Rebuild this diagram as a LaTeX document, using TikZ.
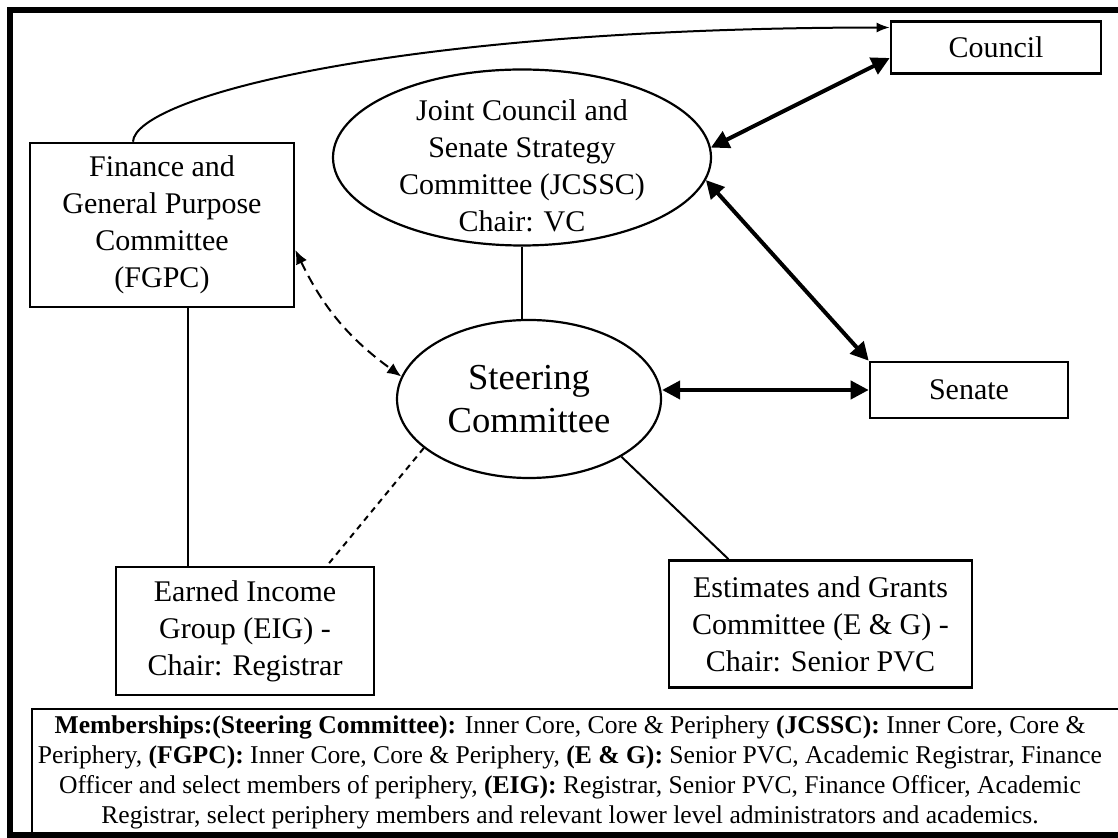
\documentclass[tikz,border=0pt]{standalone}
\usepackage{fontspec}
\setmainfont{Liberation Serif}
\usetikzlibrary{arrows.meta,shapes.geometric,calc}

\begin{document}
\begin{tikzpicture}[x=0.5pt,y=-0.5pt,
  box/.style={draw,line width=1.3pt,rectangle,inner sep=0pt,align=center,
    font=\fontsize{15}{18.5}\selectfont},
  oval/.style={draw,line width=1.1pt,ellipse,inner sep=0pt},
  ovaltext/.style={align=center,inner sep=0pt},
  link/.style={line width=1pt},
  bigarrow/.style={line width=2pt,
    {Triangle[length=9pt,width=9pt]}-{Triangle[length=9pt,width=9pt]}},
  dasharrow/.style={line width=1pt,dash pattern=on 5pt off 3pt,
    {Latex[length=7pt,width=6pt]}-{Latex[length=7pt,width=6pt]}},
  dashlink/.style={line width=1pt,dash pattern=on 3pt off 2.5pt},
]
\useasboundingbox (0,0) rectangle (1118,838);

% outer frame and membership panel
\draw[line width=3pt] (1130,10) -- (10,10) -- (10,835) -- (1130,835);
\draw[line width=1.3pt] (32,709) rectangle (1130,835);

% committees
\node[box,minimum width=105pt,minimum height=26pt] (council) at (996,47.5) {Council};
\node[box,minimum width=132pt,minimum height=82pt] (fgpc) at (162,225)
  {Finance and\\General Purpose\\Committee\\(FGPC)};
\node[oval,minimum width=189pt,minimum height=88pt] (jcssc) at (522,157.5) {};
\node[ovaltext,font=\fontsize{15}{18.5}\selectfont] (jcsscText)
  at ([yshift=-4pt]jcssc.center)
  {Joint Council and\\Senate Strategy\\Committee (JCSSC)\\Chair: VC};
\node[oval,minimum width=132pt,minimum height=79pt] (steer) at (529,399) {};
\node[ovaltext,font=\fontsize{18.3}{21.5}\selectfont] (steerText)
  at (steer.center) {Steering\\Committee};
\node[box,minimum width=99pt,minimum height=28pt] (senate) at (969,390) {Senate};
\node[box,minimum width=129pt,minimum height=64pt] (eig) at (245,631)
  {Earned Income\\Group (EIG) -\\Chair: Registrar};
\node[box,minimum width=151.5pt,minimum height=63.5pt] (eg) at (820.5,624)
  {Estimates and Grants\\Committee (E \& G) -\\Chair: Senior PVC};

\node[align=center,font=\fontsize{12.8}{15}\selectfont] (members) at (570,772)
  {\textbf{Memberships:(Steering Committee):} Inner Core, Core \& Periphery \textbf{(JCSSC):} Inner Core, Core \&\\
   Periphery, \textbf{(FGPC):} Inner Core, Core \& Periphery, \textbf{(E \& G):} Senior PVC, Academic Registrar, Finance\\
   Officer and select members of periphery, \textbf{(EIG):} Registrar, Senior PVC, Finance Officer, Academic\\
   Registrar, select periphery members and relevant lower level administrators and academics.};

% connectors
\draw[link,-{Latex[length=6.5pt,width=5pt]}] ([xshift=-14.5pt]fgpc.north)
  .. controls (135,98) and (390,28) .. ([yshift=10pt]council.west);
\draw[bigarrow] (jcssc.3) -- ([yshift=-5.25pt]council.west);
\draw[bigarrow] (jcssc.-7) -- (senate.north west);
\draw[bigarrow] (steer.east |- senate.west) -- (senate.west);
\draw[link] (jcssc.south) -- (jcssc.south |- steer.north);
\draw[dasharrow] ([yshift=-12.5pt]fgpc.east) to[bend right=14] (steer.170);
\draw[dashlink] (steer.205) -- ([xshift=41pt]eig.north);
\draw[link] ([xshift=13pt]fgpc.south) -- ([xshift=13pt]fgpc.south |- eig.north);
\draw[link] (steer.-32) -- ([xshift=-46pt]eg.north);
\end{tikzpicture}
\end{document}
